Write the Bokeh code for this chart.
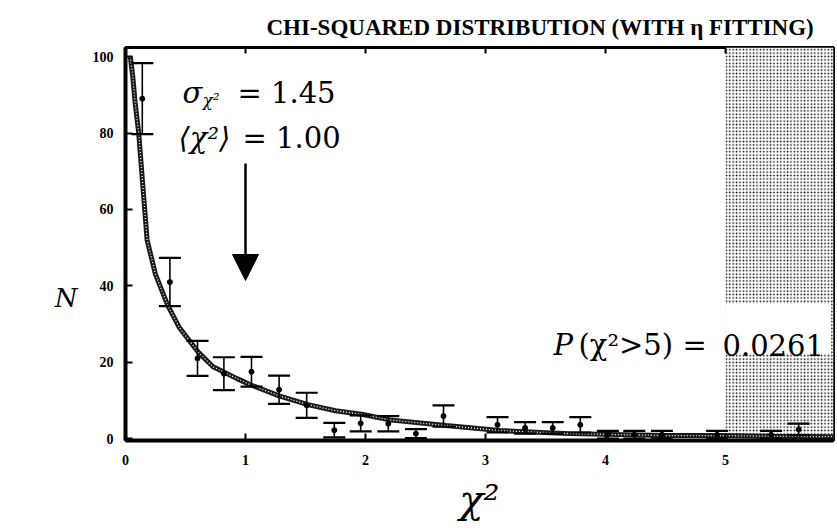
from bokeh.plotting import figure
from bokeh.models import Label, Arrow, NormalHead, LinearAxis, FixedTicker, Range1d
from bokeh.embed import file_html
from bokeh.resources import INLINE

# ---- data ----
bin_x = [0.14, 0.37, 0.60, 0.82, 1.05, 1.28, 1.51, 1.74, 1.96, 2.19, 2.42, 2.65,
         3.10, 3.33, 3.56, 3.79, 4.02, 4.24, 4.47, 4.93, 5.38, 5.61]
bin_n = [89.0, 41.0, 21.0, 17.0, 17.5, 12.8, 8.7, 2.2, 4.0, 3.9, 1.3, 5.9,
         3.6, 2.8, 2.8, 3.6, 1.0, 1.0, 1.0, 1.0, 1.0, 2.4]
bin_err = [9.3, 6.3, 4.6, 4.3, 3.9, 3.7, 3.3, 1.9, 2.1, 2.0, 1.2, 2.8,
           2.0, 1.5, 1.5, 2.0, 1.0, 1.0, 1.0, 1.0, 1.0, 1.5]

curve_x = [0.04, 0.06, 0.08, 0.11, 0.14, 0.18, 0.25, 0.35, 0.45, 0.61, 0.73, 0.93,
           1.04, 1.28, 1.52, 1.75, 1.98, 2.2, 2.67, 3.12, 3.7, 4.5, 4.96, 5.4, 5.9]
curve_n = [100, 95, 88, 80, 68, 52, 43, 35, 29, 22.5, 18.8, 15.7,
           14.1, 11.2, 8.9, 7.3, 6.3, 4.9, 3.4, 2.1, 1.3, 0.8, 0.8, 0.6, 0.5]

x_ticks = [0, 1, 2, 3, 4, 5]
y_ticks = [0, 20, 40, 60, 80, 100]

mean_chi2 = 1.00
sigma_chi2 = 1.45
tail_cut = 5
tail_prob = 0.0261

title_text = "CHI-SQUARED DISTRIBUTION (WITH η  FITTING)"

serif = "DejaVu Serif"
times = "Liberation Serif"
tickfont = "Liberation Sans Narrow"

# ---- figure ----
p = figure(width=837, height=531,
           x_range=Range1d(0, 5.9), y_range=Range1d(-0.5, 102.4),
           output_backend="svg", toolbar_location=None,
           min_border_left=125, min_border_right=4,
           min_border_top=47, min_border_bottom=91)
p.grid.visible = False
p.outline_line_color = "black"
p.outline_line_width = 3
p.background_fill_color = "white"
p.border_fill_color = "white"

p.title.text = title_text
p.title.text_font = times
p.title.text_font_style = "bold"
p.title.text_font_size = "23px"
p.title.text_color = "black"
p.title.align = "left"
p.title.offset = 141
p.title.standoff = 16

# shaded tail region
p.quad(left=[tail_cut], right=[5.9], bottom=[-0.5], top=[102.4],
       fill_color="white", line_color=None,
       hatch_pattern="dot", hatch_scale=3.4, hatch_weight=1.6, hatch_color="black")
# white box behind P-label
p.quad(left=[tail_cut], right=[5.88], bottom=[22.3], top=[35.4],
       fill_color="white", line_color=None)

# fitted curve (beaded look)
p.line(curve_x, curve_n, line_width=5, color="#1a1a1a")
p.line(curve_x, curve_n, line_width=1.3, color="white", line_dash="1 2")

# error bars
lo = [n - e for n, e in zip(bin_n, bin_err)]
hi = [n + e for n, e in zip(bin_n, bin_err)]
p.segment(x0=bin_x, y0=lo, x1=bin_x, y1=hi, line_color="black", line_width=1.6)
p.scatter(bin_x, lo, marker="dash", size=22, line_color="black", line_width=2.2)
p.scatter(bin_x, hi, marker="dash", size=22, line_color="black", line_width=2.2)
p.scatter(bin_x, bin_n, marker="circle", size=5, color="black")

# axes
xa = p.xaxis[0]
xa.ticker = FixedTicker(ticks=x_ticks)
ya = p.yaxis[0]
ya.ticker = FixedTicker(ticks=y_ticks)
for ax in (xa, ya):
    ax.axis_line_width = 4
    ax.major_tick_in = 7
    ax.major_tick_out = 0
    ax.major_tick_line_width = 2
    ax.minor_tick_line_color = None
    ax.major_label_text_font = tickfont
    ax.major_label_text_font_style = "bold"
    ax.major_label_text_font_size = "14px"
    ax.major_label_text_color = "black"
xa.major_label_standoff = 14
ya.major_label_standoff = 12

xa.axis_label = "χ²"
xa.axis_label_text_font = serif
xa.axis_label_text_font_style = "italic"
xa.axis_label_text_font_size = "40px"
xa.axis_label_text_color = "black"
xa.axis_label_standoff = 8

# leading blank lines push the horizontal "N" below the frame's middle
ya.axis_label = "\n\n\nN"
ya.axis_label_text_font = serif
ya.axis_label_text_font_style = "italic"
ya.axis_label_text_font_size = "26px"
ya.axis_label_text_color = "black"
ya.axis_label_standoff = 12
if hasattr(ya, "axis_label_orientation"):
    ya.axis_label_orientation = "horizontal"

top = LinearAxis(ticker=FixedTicker(ticks=[1, 2, 3, 4, 5]))
top.axis_line_color = None
top.major_tick_in = 6
top.major_tick_out = 0
top.major_tick_line_width = 2
top.minor_tick_line_color = None
top.major_label_text_font_size = "1px"
top.major_label_text_color = None
top.major_label_standoff = 0
p.add_layout(top, "above")

# arrow at mean
p.add_layout(Arrow(end=NormalHead(size=26, fill_color="black", line_color="black"),
                   x_start=mean_chi2, y_start=72.0, x_end=mean_chi2, y_end=41.4,
                   line_width=2.5, line_color="black"))

# annotations
def lab(x, y, text, size, style="normal", align="left", font=serif):
    p.add_layout(Label(x=x, y=y, text=text, text_font=font, text_font_size=size,
                       text_font_style=style, text_align=align,
                       text_baseline="alphabetic", text_color="black"))

lab(0.475, 90.4, "σ", "29px", "italic")
lab(0.642, 88.6, "χ²", "17px", "italic")
lab(0.933, 90.4, "= %.2f" % sigma_chi2, "29px")
lab(0.442, 78.8, "⟨χ²⟩", "29px", "italic")
lab(0.975, 78.8, "= %.2f" % mean_chi2, "29px")

lab(3.567, 24.4, "P", "29px", "italic")
lab(3.775, 24.4, "(χ²>%d)" % tail_cut, "29px")
lab(4.642, 24.4, "=", "29px")
lab(4.975, 24.4, "%.4f" % tail_prob, "29px")

open("out.html", "w").write(file_html(p, INLINE))
